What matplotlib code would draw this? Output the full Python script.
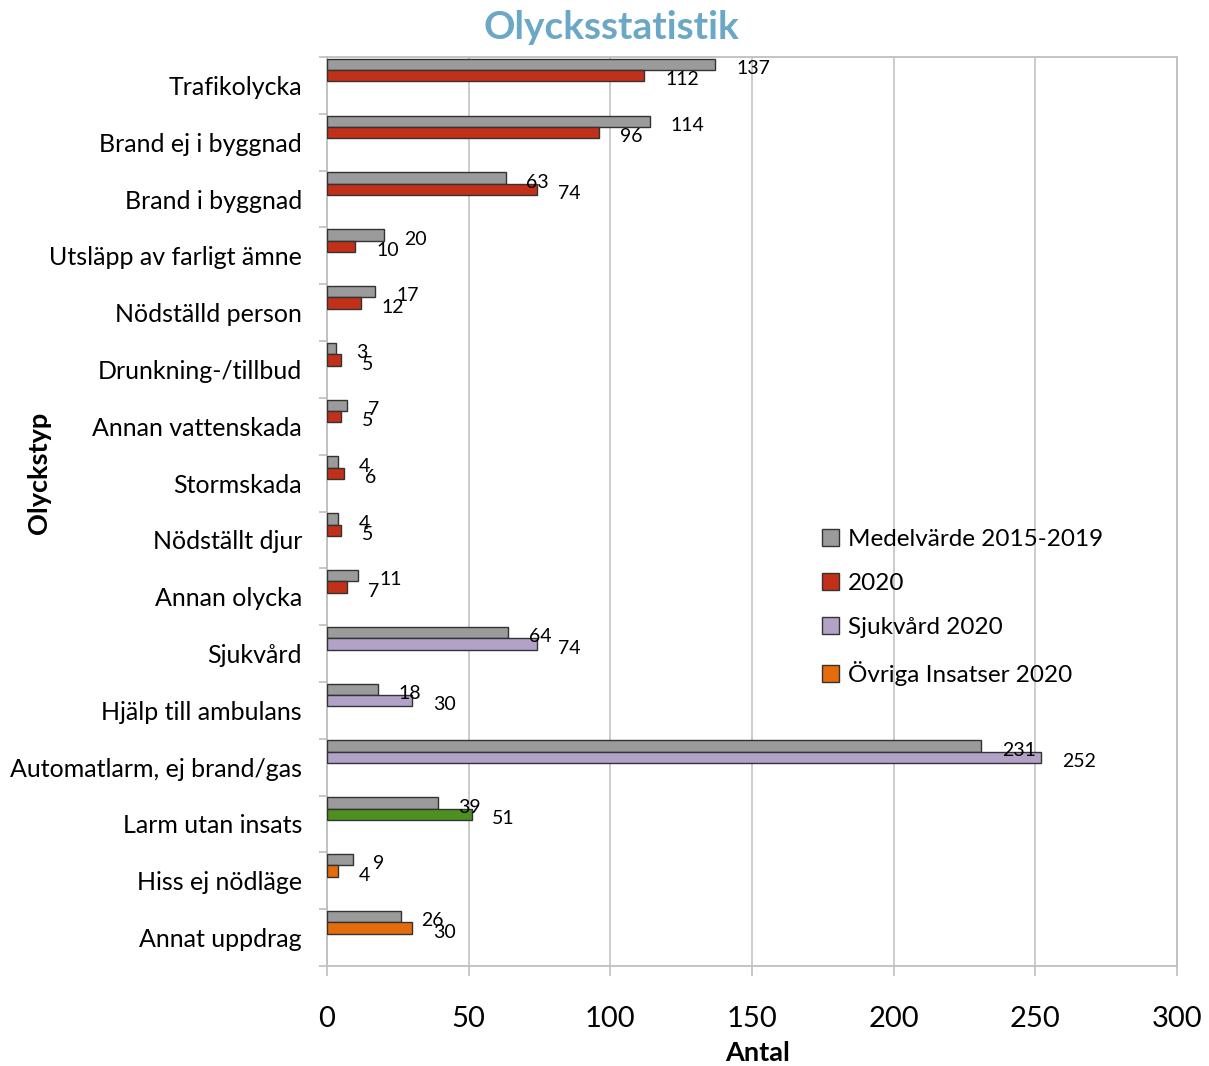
import numpy as np
import matplotlib
matplotlib.use("Agg")
import matplotlib.pyplot as plt
from matplotlib.patches import Patch

plt.rcParams['font.family'] = ['Lato', 'DejaVu Sans']

categories = ["Trafikolycka", "Brand ej i byggnad", "Brand i byggnad",
              "Utsläpp av farligt ämne", "Nödställd person", "Drunkning-/tillbud",
              "Annan vattenskada", "Stormskada", "Nödställt djur", "Annan olycka",
              "Sjukvård", "Hjälp till ambulans", "Automatlarm, ej brand/gas",
              "Larm utan insats", "Hiss ej nödläge", "Annat uppdrag"]
medel_2015_2019 = [137, 114, 63, 20, 17, 3, 7, 4, 4, 11, 64, 18, 231, 39, 9, 26]
values_2020 = [112, 96, 74, 10, 12, 5, 5, 6, 5, 7, 74, 30, 252, 51, 4, 30]
# which group each 2020 bar belongs to
group_2020 = ["olycka"] * 10 + ["sjukvard"] * 3 + ["larm"] + ["ovriga"] * 2
legend_labels = ["Medelvärde 2015-2019", "2020", "Sjukvård 2020", "Övriga Insatser 2020"]

GRAY = "#9b9b9b"
group_colors = {"olycka": "#c3301a", "sjukvard": "#b3a2c7",
                "larm": "#4e8f22", "ovriga": "#e46c0a"}

fig = plt.figure(figsize=(12.09, 10.66), dpi=100)
ax = fig.add_axes([0.2705, 0.0938, 0.703, 0.8527])

y = np.arange(len(categories))
h = 0.2
y_gray = y - 0.37
y_col = y - 0.17
cols = [group_colors[g] for g in group_2020]

ax.barh(y_gray, medel_2015_2019, height=h, color=GRAY, edgecolor="#333333",
        linewidth=1.0, zorder=3)
ax.barh(y_col, values_2020, height=h, color=cols, edgecolor="#333333",
        linewidth=1.0, zorder=3)

for yy, v in zip(y_gray, medel_2015_2019):
    ax.annotate(str(v), (v, yy), xytext=(15, -3), textcoords="offset points",
                ha="left", va="center", fontsize=14, zorder=4)
for yy, v in zip(y_col, values_2020):
    ax.annotate(str(v), (v, yy), xytext=(15, -3), textcoords="offset points",
                ha="left", va="center", fontsize=14, zorder=4)

ax.set_xlim(0, 300)
ax.set_ylim(len(categories) - 0.5, -0.5)
ax.set_xticks(np.arange(0, 301, 50))
ax.tick_params(axis="x", labelsize=21, length=7, width=1.2, color="#bfbfbf", pad=22)
ax.set_yticks(y)
ax.set_yticklabels(categories, fontsize=18)
ax.set_yticks(np.arange(-0.5, len(categories), 1), minor=True)
ax.tick_params(axis="y", which="major", length=0, pad=18)
ax.tick_params(axis="y", which="minor", length=6, width=1.2, color="#bfbfbf")
ax.grid(axis="x", color="#c8c8c8", linewidth=1.3, zorder=0)
for s in ax.spines.values():
    s.set_color("#bfbfbf")
    s.set_linewidth(1.3)

ax.set_xlabel("Antal", fontsize=19.5, fontweight="bold")
ax.xaxis.set_label_coords(0.506, -0.083)
ax.set_ylabel("Olyckstyp", fontsize=19.5, fontweight="bold")
ax.yaxis.set_label_coords(-0.325, 0.542)
fig.suptitle("Olycksstatistik", fontsize=28, fontweight="bold", color="#6ba7c6",
             x=0.506, y=0.991)

handles = [Patch(facecolor=GRAY, edgecolor="#333333"),
           Patch(facecolor=group_colors["olycka"], edgecolor="#333333"),
           Patch(facecolor=group_colors["sjukvard"], edgecolor="#333333"),
           Patch(facecolor=group_colors["ovriga"], edgecolor="#333333")]
fig.legend(handles, legend_labels, loc="upper left", bbox_to_anchor=(0.672, 0.513),
           frameon=False, fontsize=17.5, handlelength=0.7, handleheight=0.7,
           handletextpad=0.35, labelspacing=0.95, borderaxespad=0)

fig.savefig("out.png", dpi=100)
